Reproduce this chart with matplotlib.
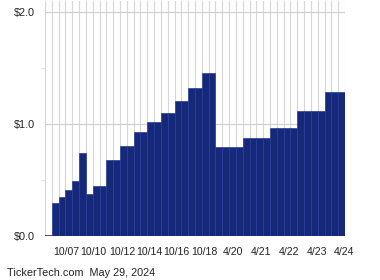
import matplotlib
matplotlib.use("Agg")
import matplotlib.pyplot as plt
import numpy as np

values = [0.295, 0.348, 0.41, 0.49, 0.74, 0.375, 0.446, 0.446, 0.68, 0.68,
          0.80, 0.80, 0.93, 0.93, 1.02, 1.02, 1.10, 1.10, 1.205, 1.205,
          1.32, 1.32, 1.455, 1.455,
          0.795, 0.795, 0.795, 0.795,
          0.875, 0.875, 0.875, 0.875,
          0.964, 0.964, 0.964, 0.964,
          1.116, 1.116, 1.116, 1.116,
          1.286, 1.286, 1.286]
tick_labels = ["10/07", "10/10", "10/12", "10/14", "10/16", "10/18",
               "4/20", "4/21", "4/22", "4/23", "4/24"]
tick_pos = [1.6, 5.6, 9.8, 13.8, 17.7, 21.9, 26.0, 30.2, 34.3, 38.4, 42.4]
y_ticks = [0.0, 1.0, 2.0]
y_labels = ["$0.0", "$1.0", "$2.0"]

plt.rcParams['font.family'] = ['Liberation Sans', 'DejaVu Sans']

fig = plt.figure(figsize=(3.8, 2.8), dpi=100)
ax = fig.add_axes([45/380, 1-236/280, 300/380, 235/280])

n = len(values)
x = np.arange(n)
ax.bar(x, values, width=1.0, color='#15287a', edgecolor='#2a3d9a',
       linewidth=0.5, zorder=3)

ax.set_xlim(-1.5, n - 0.5)
ax.set_ylim(0, 2.1)

# vertical grid at each bar edge
for e in np.arange(-1.5, n, 1.0):
    ax.axvline(e, color='#d6d6d6', lw=0.8, zorder=1)
for yv in [1.0, 2.0]:
    ax.axhline(yv, color='#cdcdcd', lw=0.8, zorder=1)
ax.axhline(0, color='#333333', lw=1.2, zorder=2)

for s in ax.spines.values():
    s.set_visible(False)

ax.set_yticks(y_ticks)
ax.set_yticklabels(y_labels, fontsize=7.8, color='#222222')
ax.set_yticks([0.5, 1.5], minor=True)
ax.tick_params(axis='y', which='major', length=0, pad=7)
ax.tick_params(axis='y', which='minor', length=3, color='#dddddd', width=0.6)

ax.set_xticks(tick_pos)
ax.set_xticklabels(tick_labels, fontsize=7.6, color='#222222')
ax.tick_params(axis='x', length=0, pad=8)

fig.text(7/380, 1-272.5/280, "TickerTech.com  May 29, 2024", fontsize=7.8,
         color='#222222', ha='left', va='center')

fig.savefig("out.png", dpi=100)
